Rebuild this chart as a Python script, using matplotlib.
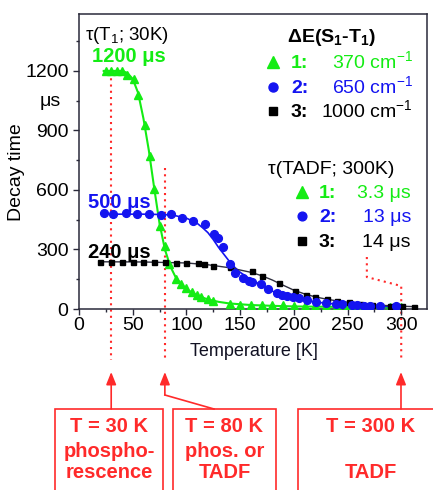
import matplotlib
matplotlib.use("Agg")
import matplotlib.pyplot as plt
from matplotlib.patches import Rectangle, FancyArrowPatch
from matplotlib.lines import Line2D
from matplotlib.ticker import MultipleLocator

plt.rcParams['font.family'] = ['Liberation Sans', 'DejaVu Sans']
plt.rcParams['mathtext.fontset'] = 'custom'
plt.rcParams['mathtext.rm'] = 'Liberation Sans'
plt.rcParams['mathtext.bf'] = 'Liberation Sans:bold'
plt.rcParams['mathtext.default'] = 'regular'

# ---------------- data ----------------
# series 1 (green triangles)
g_T = [25, 30, 35, 40, 45, 51, 55, 61, 66, 70, 75, 80, 84, 90, 95, 100, 105, 110, 114, 120, 125,
       141, 150, 160, 170, 180, 190, 200, 210, 220, 230, 240, 250, 260, 270, 280, 290, 300]
g_v = [1200, 1200, 1200, 1200, 1180, 1160, 1080, 930, 770, 605, 420, 318, 225, 150, 125, 104, 87, 70, 59, 48, 40,
       25, 21, 20, 19, 18, 18, 17, 16, 15, 15, 14, 14, 13, 13, 12, 12, 12]
gf_T = [23, 40, 45, 50, 55, 60, 65, 70, 75, 80, 85, 90, 95, 100, 110, 120, 130, 140, 160, 180, 200, 250, 300]
gf_v = [1200, 1200, 1190, 1160, 1090, 960, 800, 610, 430, 300, 215, 160, 125, 100, 68, 48, 36, 28, 20, 16, 13, 10, 8]

# series 2 (blue circles)
b_T = [23, 32, 44, 54, 65, 76, 86, 96, 106, 117, 126, 129, 134, 141, 145, 153, 158, 161, 169, 176, 184,
       189, 194, 199, 205, 212, 221, 230, 239, 245, 254, 259, 265, 271, 280, 295]
b_v = [485, 478, 485, 478, 478, 472, 478, 457, 442, 428, 376, 356, 314, 226, 182, 154, 143, 138, 128, 99, 80,
       70, 66, 62, 54, 45, 35, 30, 25, 24, 20, 19, 17, 16, 13, 13]
bf_T = [22, 60, 80, 90, 100, 110, 115, 120, 125, 130, 135, 140, 145, 150, 160, 170, 180, 190, 200, 210, 220,
        240, 260, 280, 300]
bf_v = [478, 478, 476, 470, 458, 432, 410, 385, 350, 310, 275, 240, 210, 185, 148, 120, 90, 68, 55, 44, 35,
        24, 18, 14, 11]

# series 3 (black squares)
k_T = [20, 30, 40, 50, 60, 70, 80, 90, 100, 111, 116, 125, 141, 161, 170, 186, 201, 211, 220, 231, 240,
       251, 262, 273, 290, 301, 312]
k_v = [238, 238, 238, 238, 237, 236, 236, 234, 232, 231, 228, 217, 210, 191, 164, 130, 92, 70, 60, 49, 42,
       34, 25, 20, 15, 15, 12]
kf_T = [20, 60, 100, 120, 140, 160, 170, 180, 190, 200, 210, 220, 230, 240, 250, 260, 280, 300, 312]
kf_v = [238, 237, 232, 223, 208, 185, 168, 146, 120, 95, 76, 61, 50, 41, 34, 27, 19, 14, 12]

x_ticks = [0, 50, 100, 150, 200, 250, 300]
y_ticks = [0, 300, 600, 900, 1200]

GREEN = '#14ec14'
BLUE = '#1414f0'
BLACK = '#000000'
RED = '#ff2a2a'
SPINE = '#2a2a3a'

W, H = 433, 490
fig = plt.figure(figsize=(W / 100, H / 100), dpi=100)
ax = fig.add_axes([79 / W, 1 - 309 / H, (427 - 79) / W, (309 - 14) / H])


def fp(x, y):
    return (x / W, 1 - y / H)


# red dotted guide lines
dot = dict(color=RED, lw=1.5, ls=(0, (1, 2)), clip_on=False, zorder=1)
ax.plot([30, 30], [1195, -257], **dot)
ax.plot([80, 80], [711, -257], **dot)
ax.plot([268, 268, 300, 300], [262, 161, 116, -257], **dot)

# fits
ax.plot(gf_T, gf_v, color=GREEN, lw=1.5, zorder=3)
ax.plot(bf_T, bf_v, color=BLUE, lw=1.2, zorder=3)
ax.plot(kf_T, kf_v, color='#303040', lw=1.0, zorder=3)
# data
ax.plot(g_T, g_v, ls='none', marker='^', ms=5.5, color=GREEN, mec=GREEN, zorder=4)
ax.plot(k_T, k_v, ls='none', marker='s', ms=3.6, color=BLACK, zorder=5)
ax.plot(b_T, b_v, ls='none', marker='o', ms=5.6, color=BLUE, mec=BLUE, zorder=6)

ax.set_xlim(0, 324)
ax.set_ylim(0, 1487)
ax.set_xticks(x_ticks)
ax.set_yticks(y_ticks)
ax.xaxis.set_minor_locator(MultipleLocator(25))
ax.yaxis.set_minor_locator(MultipleLocator(150))
ax.tick_params(which='major', direction='out', length=4, width=1, color=SPINE, labelsize=14)
ax.tick_params(which='minor', direction='out', length=2.5, width=1, color=SPINE)
ax.tick_params(axis='x', pad=2)
ax.tick_params(axis='y', pad=3.5)
for s in ax.spines.values():
    s.set_color(SPINE)
    s.set_linewidth(1.1)

# axis labels
fig.text(*fp(254, 352), 'Temperature [K]', ha='center', va='center', fontsize=13, color='#111122')
fig.text(*fp(17, 172), 'Decay time', ha='center', va='center', rotation=90, fontsize=14)
fig.text(*fp(50, 101), 'μs', ha='center', va='center', fontsize=14)

# annotations in plot
fig.text(*fp(85, 39.5), 'τ(T$_1$; 30K)', ha='left', va='baseline', fontsize=13.5)
fig.text(*fp(92, 62.5), '1200 μs', ha='left', va='baseline', fontsize=14.5, fontweight='bold', color=GREEN)
fig.text(*fp(88, 207.5), '500 μs', ha='left', va='baseline', fontsize=14.5, fontweight='bold', color=BLUE)
fig.text(*fp(88, 258.5), '240 μs', ha='left', va='baseline', fontsize=14.5, fontweight='bold', color=BLACK)

# legend block 1
fig.text(*fp(331, 41.5), 'ΔE(S$_1$-T$_1$)', ha='center', va='baseline', fontsize=14, fontweight='bold')
rows1 = [(67.7, '^', GREEN, 9, '1:', '370 cm$^{-1}$'),
         (92.7, 'o', BLUE, 6.5, '2:', '650 cm$^{-1}$'),
         (117.0, 's', BLACK, 6.0, '3:', '1000 cm$^{-1}$')]
for yb, mk, col, ms, lab, val in rows1:
    fig.add_artist(Line2D([273 / W], [1 - (yb - 6) / H], marker=mk, ms=ms, color=col, ls='none'))
    fig.text(*fp(291, yb), lab, ha='left', va='baseline', fontsize=14, fontweight='bold', color=col)
    fig.text(*fp(413, yb), val, ha='right', va='baseline', fontsize=14, color=col)

# legend block 2
fig.text(*fp(331, 174), 'τ(TADF; 300K)', ha='center', va='baseline', fontsize=14)
rows2 = [(198.0, '^', GREEN, 8.5, '1:', '3.3 μs'),
         (222.0, 'o', BLUE, 6.3, '2:', '13 μs'),
         (246.7, 's', BLACK, 6.0, '3:', '14 μs')]
for yb, mk, col, ms, lab, val in rows2:
    fig.add_artist(Line2D([302 / W], [1 - (yb - 6) / H], marker=mk, ms=ms, color=col, ls='none'))
    fig.text(*fp(319, yb), lab, ha='left', va='baseline', fontsize=14, fontweight='bold', color=col)
    fig.text(*fp(411, yb), val, ha='right', va='baseline', fontsize=14, color=col)

# boxes
for x0, x1 in [(55, 163), (173, 276), (298, 445)]:
    fig.add_artist(Rectangle(fp(x0, 500), (x1 - x0) / W, (500 - 409) / H, transform=fig.transFigure,
                             fill=False, edgecolor=RED, lw=1.2, clip_on=False))

box_txt = [(109, ['T = 30 K', 'phospho-', 'rescence']),
           (224.5, ['T = 80 K', 'phos. or', 'TADF']),
           (371, ['T = 300 K', '', 'TADF'])]
for xc, lines in box_txt:
    for yb, t in zip([431.7, 456.7, 478.3], lines):
        if t:
            fig.text(*fp(xc, yb), t, ha='center', va='baseline', fontsize=14.5, fontweight='bold', color=RED)

# arrows
def arrow(p0, p1):
    a = FancyArrowPatch(fp(*p0), fp(*p1), transform=fig.transFigure,
                        arrowstyle='-|>,head_length=0.75,head_width=0.3', mutation_scale=10,
                        color=RED, lw=1.2, shrinkA=0, shrinkB=0)
    fig.add_artist(a)

x30 = 79 + 30 * 1.0733
x80 = 79 + 80 * 1.0733
x300 = 79 + 300 * 1.0733
arrow((x30, 409), (x30, 372))
arrow((x300, 409), (x300, 372))
fig.add_artist(Line2D([214 / W, x80 / W], [1 - 409 / H, 1 - 395 / H], color=RED, lw=1.2))
arrow((x80, 395), (x80, 372))

fig.savefig('out.png', dpi=100)
